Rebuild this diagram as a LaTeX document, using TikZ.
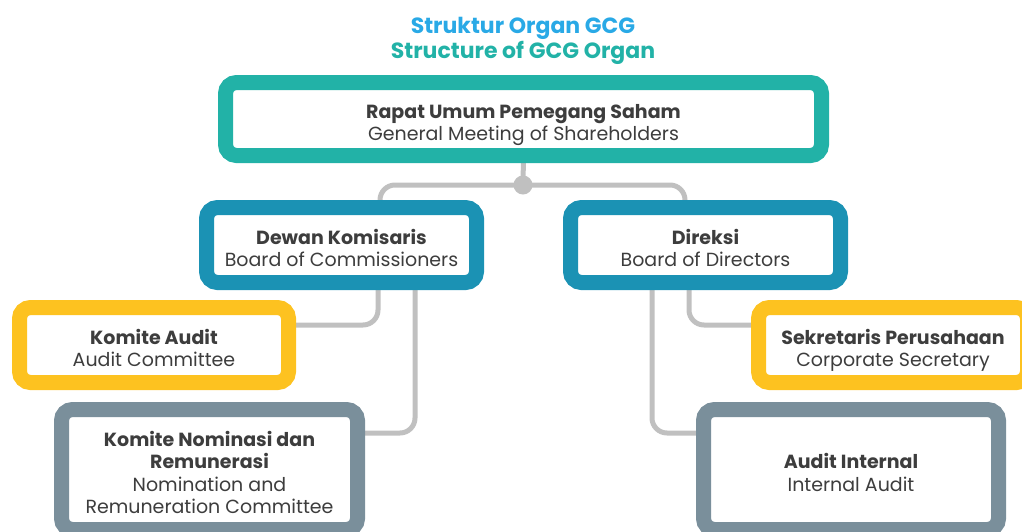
\documentclass[tikz,border=0pt]{standalone}
\usepackage{fontspec}
\setmainfont{Poppins}
\usetikzlibrary{backgrounds}
\definecolor{cteal}{HTML}{22B2A7}
\definecolor{cblue}{HTML}{1B92B4}
\definecolor{cyellow}{HTML}{FDC220}
\definecolor{cgray}{HTML}{7A8F9B}
\definecolor{cconn}{HTML}{C0C0C0}
\definecolor{ctitle}{HTML}{29A9E6}
\definecolor{ctext}{HTML}{3D3D3D}
\newcommand{\boxtext}[1]{\raisebox{-6pt}[\height][\depth]{\begin{tabular}{@{}c@{}}#1\end{tabular}}}
\tikzset{
  orgbox/.style={draw=#1, line width=15pt, fill=white, rounded corners=11pt,
    inner sep=0pt, outer sep=0pt, align=center, text=ctext,
    font=\fontsize{19}{22.5}\selectfont},
  conn/.style={draw=cconn, line width=5pt, rounded corners=15pt},
  ttl/.style={font=\fontsize{22}{24}\selectfont\bfseries, inner sep=0pt}
}
\begin{document}
\begin{tikzpicture}[x=1pt,y=-1pt]
\clip (0,0) rectangle (1022,531);
% titles
\node[ttl, text=ctitle] (t1) at (523,28) {Struktur Organ GCG};
\node[ttl, text=cteal] (t2) at (523,53) {Structure of GCG Organ};
% boxes
\node[orgbox=cteal, minimum width=596pt, minimum height=73pt] (rups) at (523.5,119)
  {\boxtext{\textbf{Rapat Umum Pemegang Saham}\\General Meeting of Shareholders}};
\node[orgbox=cblue, minimum width=270pt, minimum height=75pt] (dk) at (341.5,245)
  {\boxtext{\textbf{Dewan Komisaris}\\Board of Commissioners}};
\node[orgbox=cblue, minimum width=270pt, minimum height=75pt] (dr) at (705.5,245)
  {\boxtext{\textbf{Direksi}\\Board of Directors}};
\node[orgbox=cyellow, minimum width=269pt, minimum height=75pt] (ka) at (154,345)
  {\boxtext{\textbf{Komite Audit}\\Audit Committee}};
\node[orgbox=cyellow, minimum width=269pt, minimum height=75pt] (sp) at (893,345)
  {\boxtext{\textbf{Sekretaris Perusahaan}\\Corporate Secretary}};
\node[orgbox=cgray, minimum width=296pt, minimum height=120pt] (kn) at (209.5,469.5)
  {\boxtext{\textbf{Komite Nominasi dan}\\\textbf{Remunerasi}\\Nomination and\\Remuneration Committee}};
\node[orgbox=cgray, minimum width=295pt, minimum height=120pt] (ai) at (851,469.5)
  {\boxtext{\textbf{Audit Internal}\\Internal Audit}};
\node[circle, fill=cconn, minimum size=19pt, inner sep=0pt] (dot) at (523,185) {};
% connectors
\begin{scope}[on background layer]
\draw[conn] (rups.south) -- (dot.center);
\draw[conn] ([xshift=38.5pt]dk.north) |- (dot.center) -| ([xshift=-20.5pt]dr.north);
\draw[conn] ([xshift=36.5pt]dk.south) |- ([yshift=20pt]ka.east);
\draw[conn] ([xshift=73.5pt]dk.south) |- ([yshift=36.5pt]kn.east);
\draw[conn] ([xshift=-16.5pt]dr.south) |- ([yshift=20pt]sp.west);
\draw[conn] ([xshift=-53.5pt]dr.south) |- ([yshift=36.5pt]ai.west);
\end{scope}
\end{tikzpicture}
\end{document}
